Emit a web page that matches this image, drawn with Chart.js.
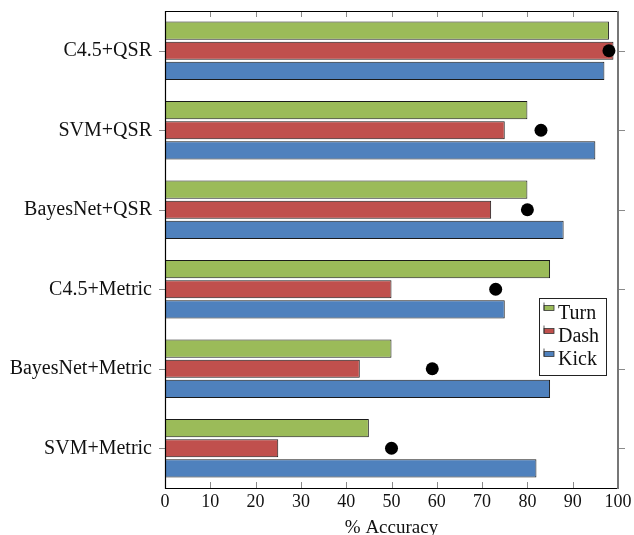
<!DOCTYPE html>
<html>
<head>
<meta charset="utf-8">
<script src="https://cdn.jsdelivr.net/npm/chart.js@4/dist/chart.umd.min.js"></script>
<style>
  html, body { margin: 0; padding: 0; background: #fff; }
  #wrap { width: 634px; height: 535px; }
</style>
</head>
<body>
<div id="wrap"><canvas id="accChart" width="634" height="535"></canvas></div>
<script>
// --- Data ---
const categories = ['C4.5+QSR', 'SVM+QSR', 'BayesNet+QSR', 'C4.5+Metric', 'BayesNet+Metric', 'SVM+Metric'];
const turnValues = [98, 80, 80, 85, 50, 45];
const dashValues = [99, 75, 72, 50, 43, 25];
const kickValues = [97, 95, 88, 75, 85, 82];
const dotValues = [98, 83, 80, 73, 59, 50];
const xTickValues = [0, 10, 20, 30, 40, 50, 60, 70, 80, 90, 100];

const FONT = '"Liberation Serif", "DejaVu Serif", serif';

// --- Frame, inside ticks and legend (pgfplots look) ---
const framePlugin = {
    id: 'frame',
    afterDatasetsDraw(chart) {
        const ctx = chart.ctx;
        const a = chart.chartArea;
        const xs = chart.scales.x;
        const ys = chart.scales.y;
        ctx.save();

        // ticks
        ctx.strokeStyle = '#8a8a8a';
        ctx.lineWidth = 1;
        xTickValues.forEach(v => {
            const px = Math.round(xs.getPixelForValue(v)) + 0.5;
            ctx.beginPath();
            ctx.moveTo(px, a.bottom); ctx.lineTo(px, a.bottom - 6);
            ctx.moveTo(px, a.top); ctx.lineTo(px, a.top + 6);
            ctx.stroke();
        });
        categories.forEach((c, i) => {
            const py = Math.round(ys.getPixelForValue(i)) + 0.5;
            ctx.beginPath();
            ctx.moveTo(a.left - 6, py); ctx.lineTo(a.left, py);
            ctx.moveTo(a.right, py); ctx.lineTo(a.right + 7, py);
            ctx.stroke();
        });

        // frame
        ctx.lineWidth = 1.2;
        ctx.strokeStyle = '#000';
        ctx.beginPath();
        ctx.moveTo(a.right, a.top + 0.5); ctx.lineTo(a.left + 0.5, a.top + 0.5);
        ctx.lineTo(a.left + 0.5, a.bottom + 0.5); ctx.lineTo(a.right, a.bottom + 0.5);
        ctx.stroke();
        ctx.strokeStyle = '#777';
        ctx.lineWidth = 2;
        ctx.beginPath();
        ctx.moveTo(a.right, a.top); ctx.lineTo(a.right, a.bottom + 1);
        ctx.stroke();

        // legend
        const lx = 539.5, ly = 298.5, lw = 67, lh = 77;
        ctx.fillStyle = '#fff';
        ctx.fillRect(lx, ly, lw, lh);
        ctx.strokeStyle = '#222';
        ctx.lineWidth = 1;
        ctx.strokeRect(lx, ly, lw, lh);
        const items = chart.data.datasets.filter(d => d.type !== 'line');
        ctx.font = '20px ' + FONT;
        ctx.textBaseline = 'middle';
        items.forEach((d, i) => {
            const cy = ly + 15 + i * 23;
            ctx.fillStyle = d.backgroundColor;
            ctx.fillRect(544, cy - 8, 10, 5);
            ctx.strokeStyle = '#333';
            ctx.lineWidth = 0.8;
            ctx.strokeRect(544, cy - 8, 10, 5);
            ctx.beginPath();
            ctx.moveTo(544, cy - 11); ctx.lineTo(544, cy - 3);
            ctx.stroke();
            ctx.fillStyle = '#111';
            ctx.fillText(d.label, 558, cy);
        });
        ctx.restore();
    }
};

const barStyle = {
    borderColor: '#1a1a1a',
    borderWidth: 1,
    borderSkipped: false,
    categoryPercentage: 0.76,
    barPercentage: 0.9,
    order: 1
};

new Chart(document.getElementById('accChart'), {
    type: 'bar',
    data: {
        labels: categories,
        datasets: [
            { label: 'Turn', data: turnValues, backgroundColor: '#9bbb59', ...barStyle },
            { label: 'Dash', data: dashValues, backgroundColor: '#c0504d', ...barStyle },
            { label: 'Kick', data: kickValues, backgroundColor: '#4f81bd', ...barStyle },
            {
                type: 'line', label: 'dots', data: dotValues, indexAxis: 'y',
                showLine: false, pointRadius: 6.5, pointHoverRadius: 6.5,
                backgroundColor: '#000', borderColor: '#000', borderWidth: 0,
                order: 0
            }
        ]
    },
    options: {
        indexAxis: 'y',
        responsive: false,
        animation: false,
        layout: { padding: { top: 11, right: 16, left: 0, bottom: 0 } },
        plugins: { legend: { display: false }, tooltip: { enabled: false } },
        scales: {
            x: {
                min: 0, max: 100,
                afterBuildTicks: (s) => { s.ticks = xTickValues.map(v => ({ value: v })); },
                afterFit: (s) => { s.height = 47; s.paddingLeft = 0; s.paddingRight = 0; },
                grid: { display: false, drawTicks: false },
                border: { display: false },
                ticks: { color: '#111', font: { family: FONT, size: 18 }, padding: 3, maxRotation: 0 },
                title: {
                    display: true, text: '% Accuracy', color: '#111',
                    font: { family: FONT, size: 19 }, padding: { top: 0, bottom: -4 }
                }
            },
            y: {
                afterFit: (s) => { s.width = 165; s.paddingTop = 0; s.paddingBottom = 0; },
                grid: { display: false, drawTicks: false },
                border: { display: false },
                ticks: { color: '#111', font: { family: FONT, size: 20 }, padding: 13 }
            }
        }
    },
    plugins: [framePlugin]
});
</script>
</body>
</html>
